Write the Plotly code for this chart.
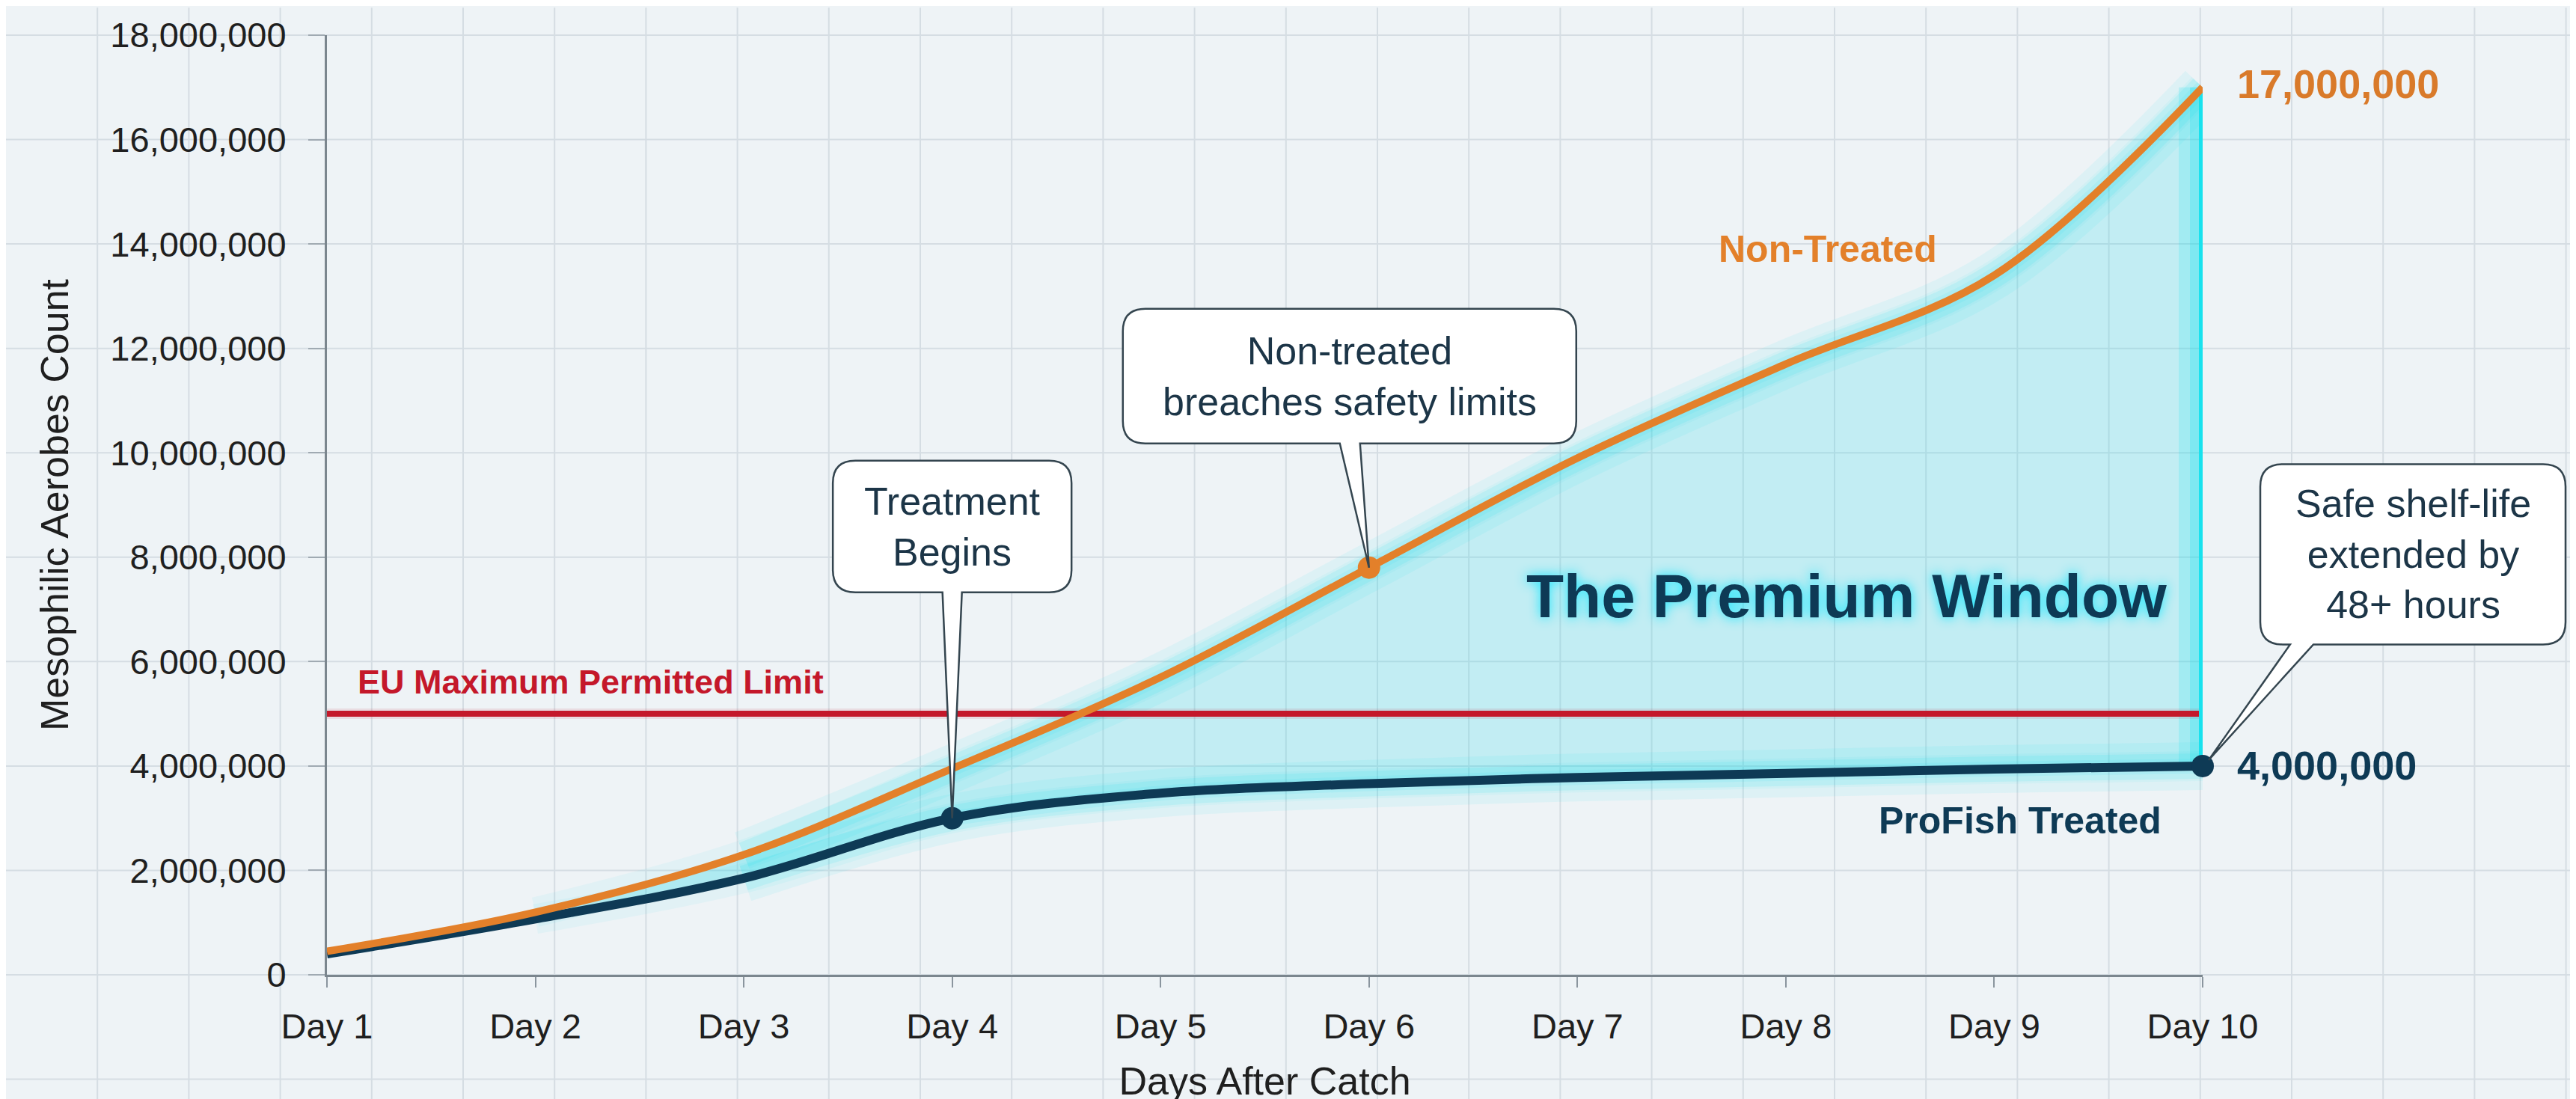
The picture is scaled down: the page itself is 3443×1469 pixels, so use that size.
import plotly.graph_objects as go

# ---------------- data ----------------
days = ["Day 1", "Day 2", "Day 3", "Day 4", "Day 5", "Day 6", "Day 7", "Day 8", "Day 9", "Day 10"]
non_treated = [450000, 1200000, 2300000, 3950000, 5700000, 7800000, 9900000, 11700000, 13400000, 17000000]
treated = [400000, 1070000, 1850000, 3000000, 3480000, 3660000, 3780000, 3860000, 3940000, 4000000]
eu_limit = 5000000
y_max = 18000000
y_ticks = [0, 2000000, 4000000, 6000000, 8000000, 10000000, 12000000, 14000000, 16000000, 18000000]

treatment_day = "Day 4"
breach_day = "Day 6"

# ---------------- style ----------------
W, H = 3443, 1469
ML, MR, MT, MB = 429, 507, 37, 171
PW, PH = W - ML - MR, H - MT - MB
FONT = "Liberation Sans, Arial, Helvetica, sans-serif"
BG = "#eef3f6"
GRID = "#d5dde3"
ORANGE = "#e3802a"
NAVY = "#0e3a55"
RED = "#c4182a"
CYAN = "#18e2ee"
GLOW = "rgba(0,222,238,{a})"
TXT = "#1f1f1f"
CALLOUT_TXT = "#1c3547"

x = list(range(len(days)))
x_min, x_max = x[0], x[-1]

fig = go.Figure()

# fill between curves (the premium window)
fig.add_trace(go.Scatter(x=x, y=treated, mode="lines", line=dict(width=0, shape="spline"),
                         hoverinfo="skip", showlegend=False))
fig.add_trace(go.Scatter(x=x, y=non_treated, mode="lines", line=dict(width=0, shape="spline"),
                         fill="tonexty", fillcolor="rgba(40,218,232,0.22)",
                         hoverinfo="skip", showlegend=False))

# glows (fade in over the first days)
glow_layers = [(1, 40, 0.05), (2, 64, 0.07), (2, 34, 0.10), (3, 20, 0.08)]
for start, w_, a_ in glow_layers:
    for series in (treated, non_treated):
        fig.add_trace(go.Scatter(x=x[start:], y=series[start:], mode="lines",
                                 line=dict(width=w_, shape="spline", color=GLOW.format(a=a_)),
                                 hoverinfo="skip", showlegend=False))
for w_, a_ in [(64, 0.16), (34, 0.22)]:
    fig.add_trace(go.Scatter(x=[x[-1], x[-1]], y=[treated[-1], non_treated[-1]], mode="lines",
                             line=dict(width=w_, color=GLOW.format(a=a_)),
                             cliponaxis=False, hoverinfo="skip", showlegend=False))

# EU limit line
fig.add_trace(go.Scatter(x=[x_min, x_max], y=[eu_limit, eu_limit], mode="lines",
                         line=dict(width=14, color="rgba(196,24,42,0.10)"),
                         hoverinfo="skip", showlegend=False))
fig.add_trace(go.Scatter(x=[x_min, x_max], y=[eu_limit, eu_limit], mode="lines",
                         line=dict(width=8, color=RED), hoverinfo="skip", showlegend=False))

# vertical window edge
fig.add_trace(go.Scatter(x=[x[-1], x[-1]], y=[treated[-1], non_treated[-1]], mode="lines",
                         line=dict(width=10, color=CYAN), cliponaxis=False,
                         hoverinfo="skip", showlegend=False))

# main lines
fig.add_trace(go.Scatter(x=x, y=treated, mode="lines", line=dict(width=12, color=NAVY, shape="spline"),
                         name="ProFish Treated", showlegend=False))
fig.add_trace(go.Scatter(x=x, y=non_treated, mode="lines", line=dict(width=10, color=ORANGE, shape="spline"),
                         name="Non-Treated", showlegend=False))

ti = days.index(treatment_day)
bi = days.index(breach_day)
fig.add_trace(go.Scatter(x=[x[ti], x[-1]], y=[treated[ti], treated[-1]], mode="markers",
                         marker=dict(size=30, color=NAVY), cliponaxis=False,
                         hoverinfo="skip", showlegend=False))
fig.add_trace(go.Scatter(x=[x[bi]], y=[non_treated[bi]], mode="markers",
                         marker=dict(size=30, color=ORANGE), cliponaxis=False,
                         hoverinfo="skip", showlegend=False))

# ---------------- background grid ----------------
shapes = []
step = 122.2
k = 1
while k * step < W:
    px = k * step
    shapes.append(dict(type="line", xref="paper", yref="paper",
                       x0=(px - ML) / PW, x1=(px - ML) / PW,
                       y0=-MB / PH, y1=1 + MT / PH, layer="below",
                       line=dict(color=GRID, width=2)))
    k += 1
grid_rows = y_ticks + [-(y_ticks[1] - y_ticks[0])]
for v in grid_rows:
    shapes.append(dict(type="line", xref="paper", yref="paper",
                       x0=-ML / PW, x1=1 + MR / PW, y0=v / y_max, y1=v / y_max,
                       layer="below", line=dict(color=GRID, width=2)))


# ---------------- callouts ----------------
def callout_path(cx, cy, w, h, r, tb0, tb1, tip):
    L, R = cx - w / 2, cx + w / 2
    B, T = cy - h / 2, cy + h / 2
    tx, ty = tip
    return (f"M{tb0},{B} L{tx},{ty} L{tb1},{B} L{R - r},{B} Q{R},{B} {R},{B + r} "
            f"L{R},{T - r} Q{R},{T} {R - r},{T} L{L + r},{T} Q{L},{T} {L},{T - r} "
            f"L{L},{B + r} Q{L},{B} {L + r},{B} Z")


annotations = []


def add_callout(xi, yv, text, cx, cy, w, h, tb0, tb1, tip):
    shapes.append(dict(type="path", xref="paper", yref="paper",
                       xsizemode="pixel", ysizemode="pixel",
                       xanchor=(xi - x_min) / (x_max - x_min), yanchor=yv / y_max,
                       path=callout_path(cx, cy, w, h, 30, tb0, tb1, tip),
                       fillcolor="white", line=dict(color="#34454f", width=2.5), layer="above"))
    annotations.append(dict(x=xi, y=yv, xref="x", yref="y", text=text, showarrow=False,
                            xshift=cx, yshift=cy, xanchor="center", yanchor="middle",
                            font=dict(size=52, color=CALLOUT_TXT, family=FONT)))


add_callout(x[ti], treated[ti], "Treatment<br>Begins", 0, 390, 319, 176, -13, 13, (0, 0))
add_callout(x[bi], non_treated[bi], "Non-treated<br>breaches safety limits", -26, 256, 606, 180, -39, -12, (0, 0))
add_callout(x[-1], treated[-1], "Safe shelf-life<br>extended by<br>48+ hours", 281, 283, 408, 241, 117, 148, (8, 8))

# ---------------- text labels ----------------
annotations += [
    dict(x=x_min, y=eu_limit, text="<b>EU Maximum Permitted Limit</b>", showarrow=False,
         xanchor="left", yanchor="middle", xshift=39, yshift=43,
         font=dict(size=45, color=RED, family=FONT)),
    dict(x=x[-1], y=non_treated[-1], text=f"<b>{non_treated[-1]:,}</b>", showarrow=False,
         xanchor="left", yanchor="middle", xshift=44, yshift=5,
         font=dict(size=54, color="#d97a2a", family=FONT)),
    dict(x=x[-1], y=treated[-1], text=f"<b>{treated[-1]:,}</b>", showarrow=False,
         xanchor="left", yanchor="middle", xshift=44, yshift=1,
         font=dict(size=54, color=NAVY, family=FONT)),
    dict(x=x[7], y=non_treated[7], text="<b>Non-Treated</b>", showarrow=False,
         xanchor="center", yanchor="middle", xshift=56, yshift=154,
         font=dict(size=50, color=ORANGE, family=FONT)),
    dict(x=x[-1], y=treated[-1], text="<b>ProFish Treated</b>", showarrow=False,
         xanchor="right", yanchor="middle", xshift=-53, yshift=-73,
         font=dict(size=50, color=NAVY, family=FONT)),
    dict(x=x[-1], y=eu_limit, text="<b>The Premium Window</b>", showarrow=False,
         xanchor="right", yanchor="middle", xshift=-46, yshift=158,
         font=dict(size=82, color=NAVY, family=FONT, shadow="0px 0px 16px rgba(0,229,255,0.9)")),
]

fig.update_layout(
    width=W, height=H,
    paper_bgcolor=BG, plot_bgcolor="rgba(0,0,0,0)",
    margin=dict(l=ML, r=MR, t=MT, b=MB, pad=0),
    showlegend=False,
    font=dict(family=FONT, color=TXT),
    shapes=shapes,
    annotations=annotations,
    xaxis=dict(range=[x_min, x_max], tickvals=x, ticktext=days,
               showgrid=False, zeroline=False, showline=True, linecolor="#7b868e", linewidth=3,
               ticks="outside", ticklen=14, tickwidth=2, tickcolor="#8a959e",
               tickfont=dict(size=47, color=TXT, family=FONT), ticklabelstandoff=12,
               title=dict(text="Days After Catch", font=dict(size=52, color=TXT, family=FONT), standoff=30)),
    yaxis=dict(range=[0, y_max], tickvals=y_ticks, tickformat=",",
               showgrid=False, zeroline=False, showline=True, linecolor="#7b868e", linewidth=3,
               ticks="outside", ticklen=22, tickwidth=2, tickcolor="#a0aab2",
               tickfont=dict(size=47, color=TXT, family=FONT), ticklabelstandoff=20,
               title=dict(text="Mesophilic Aerobes Count", font=dict(size=52, color=TXT, family=FONT), standoff=40)),
)

fig.write_html("out.html")
